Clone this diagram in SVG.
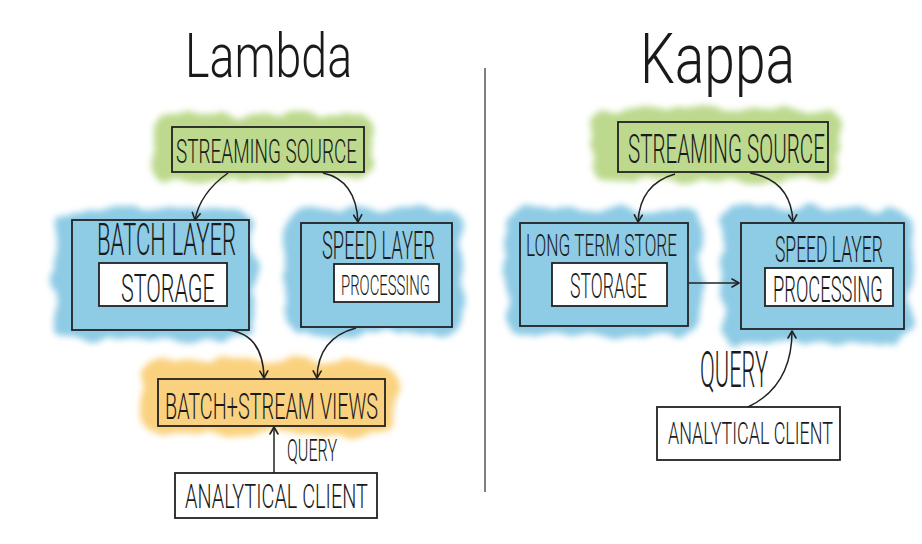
<svg xmlns="http://www.w3.org/2000/svg" width="922" height="544" viewBox="0 0 922 544">
<defs>
  <filter id="glow" x="-20%" y="-30%" width="140%" height="160%">
    <feTurbulence type="fractalNoise" baseFrequency="0.035" numOctaves="2" seed="4" result="n"/>
    <feDisplacementMap in="SourceGraphic" in2="n" scale="18" xChannelSelector="R" yChannelSelector="G" result="d"/>
    <feGaussianBlur in="d" stdDeviation="3"/>
  </filter>
  <marker id="arr" viewBox="0 0 10 10" refX="8" refY="5" markerWidth="10" markerHeight="10" markerUnits="userSpaceOnUse" orient="auto">
    <path d="M1,1 L8,5 L1,9" fill="none" stroke="#222" stroke-width="1.6" stroke-linecap="round" stroke-linejoin="round"/>
  </marker>
</defs>
<style>
  .t { font-family: Roboto, "Liberation Sans", sans-serif; font-weight: 300; fill: #1a1a1a; }
  .box { stroke: #222; stroke-width: 1.8; }
  .green { fill: #bcd98d; }
  .blue { fill: #8ecbe5; }
  .orange { fill: #fad27f; }
  .white { fill: #ffffff; }
  .con { fill: none; stroke: #222; stroke-width: 1.5; marker-end: url(#arr); }
</style>
<rect width="922" height="544" fill="#ffffff"/>

<line x1="485" y1="68" x2="485" y2="492" stroke="#555" stroke-width="1.5"/>

<g id="title-lambda">
  <text class="t" transform="translate(185,77) scale(0.746,1)" font-size="62" textLength="224" lengthAdjust="spacingAndGlyphs">Lambda</text>
</g>
<g id="title-kappa">
  <text class="t" transform="translate(640,83) scale(0.783,1)" font-size="70" textLength="198" lengthAdjust="spacingAndGlyphs">Kappa</text>
</g>

<!-- Lambda side -->
<g id="l-streaming-source">
  <rect class="green" x="152" y="114" width="220" height="64" rx="14" filter="url(#glow)"/>
  <rect class="green box" x="172" y="127" width="192" height="45"/>
  <text class="t" transform="translate(176,163) scale(0.575,1)" font-size="34" textLength="315" lengthAdjust="spacingAndGlyphs">STREAMING SOURCE</text>
</g>
<g id="l-batch-layer">
  <rect class="blue" x="55" y="210" width="200" height="130" rx="16" filter="url(#glow)"/>
  <rect class="blue box" x="72" y="220" width="177" height="110"/>
  <text class="t" transform="translate(97,255) scale(0.506,1)" font-size="44" textLength="275" lengthAdjust="spacingAndGlyphs">BATCH LAYER</text>
  <rect class="white box" x="99" y="263" width="128" height="43"/>
  <text class="t" transform="translate(121,302) scale(0.586,1)" font-size="38" textLength="160" lengthAdjust="spacingAndGlyphs">STORAGE</text>
</g>
<g id="l-speed-layer">
  <rect class="blue" x="285" y="209" width="178" height="126" rx="16" filter="url(#glow)"/>
  <rect class="blue box" x="301" y="223" width="151" height="104"/>
  <text class="t" transform="translate(322,259) scale(0.463,1)" font-size="39" textLength="244" lengthAdjust="spacingAndGlyphs">SPEED LAYER</text>
  <rect class="white box" x="334" y="264" width="105" height="38"/>
  <text class="t" transform="translate(341,295) scale(0.53,1)" font-size="28" textLength="168" lengthAdjust="spacingAndGlyphs">PROCESSING</text>
</g>
<g id="l-views">
  <rect class="orange" x="140" y="360" width="256" height="73" rx="18" filter="url(#glow)"/>
  <rect class="orange box" x="158" y="379" width="227" height="47"/>
  <text class="t" transform="translate(165,419) scale(0.552,1)" font-size="37" textLength="386" lengthAdjust="spacingAndGlyphs">BATCH+STREAM VIEWS</text>
</g>
<g id="l-query-label">
  <text class="t" transform="translate(287,461) scale(0.505,1)" font-size="32" textLength="99" lengthAdjust="spacingAndGlyphs">QUERY</text>
</g>
<g id="l-client">
  <rect class="white box" x="175" y="473" width="202" height="45"/>
  <text class="t" transform="translate(185,508) scale(0.546,1)" font-size="34" textLength="335" lengthAdjust="spacingAndGlyphs">ANALYTICAL CLIENT</text>
</g>

<!-- Kappa side -->
<g id="k-streaming-source">
  <rect class="green" x="592" y="109" width="246" height="71" rx="16" filter="url(#glow)"/>
  <rect class="green box" x="618" y="122" width="210" height="50"/>
  <text class="t" transform="translate(628,163) scale(0.532,1)" font-size="40" textLength="370" lengthAdjust="spacingAndGlyphs">STREAMING SOURCE</text>
</g>
<g id="k-long-term-store">
  <rect class="blue" x="505" y="209" width="195" height="127" rx="16" filter="url(#glow)"/>
  <rect class="blue box" x="520" y="223" width="168" height="103"/>
  <text class="t" transform="translate(526,256) scale(0.568,1)" font-size="32" textLength="266" lengthAdjust="spacingAndGlyphs">LONG TERM STORE</text>
  <rect class="white box" x="552" y="263" width="115" height="43"/>
  <text class="t" transform="translate(570,298) scale(0.51,1)" font-size="36" textLength="151" lengthAdjust="spacingAndGlyphs">STORAGE</text>
</g>
<g id="k-speed-layer">
  <rect class="blue" x="722" y="207" width="190" height="136" rx="18" filter="url(#glow)"/>
  <rect class="blue box" x="741" y="223" width="163" height="106"/>
  <text class="t" transform="translate(775,262) scale(0.467,1)" font-size="37" textLength="231" lengthAdjust="spacingAndGlyphs">SPEED LAYER</text>
  <rect class="white box" x="765" y="268" width="128" height="38"/>
  <text class="t" transform="translate(773,302) scale(0.495,1)" font-size="37" textLength="222" lengthAdjust="spacingAndGlyphs">PROCESSING</text>
</g>
<g id="k-query-label">
  <text class="t" transform="translate(700,387) scale(0.439,1)" font-size="50" textLength="155" lengthAdjust="spacingAndGlyphs">QUERY</text>
</g>
<g id="k-client">
  <rect class="white box" x="657" y="407" width="183" height="53"/>
  <text class="t" transform="translate(668,444) scale(0.541,1)" font-size="31" textLength="305" lengthAdjust="spacingAndGlyphs">ANALYTICAL CLIENT</text>
</g>

<g id="connectors">
  <path class="con" d="M228,173 Q200,193 195,220"/>
  <path class="con" d="M323,173 Q356,180 358,222"/>
  <path class="con" d="M228,330 Q263,334 264,378"/>
  <path class="con" d="M356,328 Q318,338 317,378"/>
  <path class="con" d="M274,473 L274,427"/>
  <path class="con" d="M675,174 Q640,184 638,222"/>
  <path class="con" d="M750,173 Q791,180 793,222"/>
  <path class="con" d="M689,283 L739,283"/>
  <path class="con" d="M748,407 Q792,386 792,331"/>
</g>
</svg>
